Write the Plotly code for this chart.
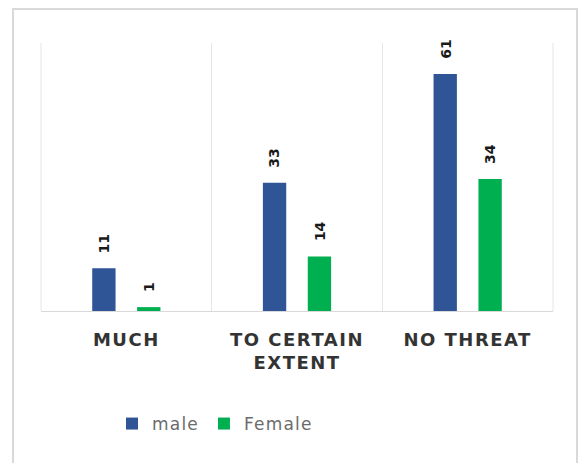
import plotly.graph_objects as go

categories = ["MUCH", "TO CERTAIN<br>EXTENT", "NO THREAT"]
series_names = ["male", "Female"]
male = [11, 33, 61]
female = [1, 14, 34]

W, H = 579, 463
L, R, T, B = 41, 26, 43, 152
pw, ph = W - L - R, H - T - B
colors = ["#2F5597", "#00B050"]


def px_x(p):
    return (p - L) / pw


def px_y(p):
    return (H - B - p) / ph


def spaced(s, sp):
    return "<br>".join(f'<span style="letter-spacing:{sp}px">{part}</span>' for part in s.split("<br>"))


fig = go.Figure()
for name, vals, col in zip(series_names, [male, female], colors):
    fig.add_trace(go.Bar(x=categories, y=vals, name=spaced(name, 1.2), marker_color=col,
                         marker_line_width=0))

# data labels above bars, rotated
bar_off = 22.5
for k, vals in enumerate([male, female]):
    shift = -bar_off if k == 0 else bar_off
    for c, v in zip(categories, vals):
        fig.add_annotation(x=c, y=v, text=str(v), textangle=-90, showarrow=False,
                           xshift=shift, yshift=13, yanchor="bottom", xanchor="center",
                           font=dict(family="DejaVu Sans", size=14, color="#1a1a1a", weight="bold"))

# outer frame
fig.add_shape(type="rect", xref="paper", yref="paper",
              x0=px_x(13), x1=px_x(577), y0=px_y(470), y1=px_y(9),
              line=dict(color="#D9D9D9", width=2), fillcolor="rgba(0,0,0,0)", layer="below")
# left & right category boundary lines
for xb in [0, 1]:
    fig.add_shape(type="line", xref="paper", yref="paper", x0=xb, x1=xb, y0=0, y1=1,
                  line=dict(color="#E6E6E6", width=1), layer="below")

fig.update_layout(
    width=W, height=H,
    margin=dict(l=L, r=R, t=T, b=B),
    paper_bgcolor="white", plot_bgcolor="white",
    barmode="group", bargap=0.474, bargroupgap=0.48,
    showlegend=True,
    legend=dict(orientation="h", x=px_x(112), y=px_y(424), xanchor="left", yanchor="middle",
                font=dict(family="DejaVu Sans", size=17, color="#6b6b6b"),
                itemwidth=30, tracegroupgap=0),
    font=dict(family="DejaVu Sans"),
)
fig.update_xaxes(type="category", tickson="boundaries", showgrid=True, gridcolor="#E6E6E6",
                 gridwidth=1, ticks="", showline=True, linecolor="#D9D9D9",
                 tickvals=categories, ticktext=[spaced(c, 1.5) for c in categories],
                 ticklabelstandoff=12,
                 tickfont=dict(family="DejaVu Sans", size=18, color="#333333", weight="bold"))
fig.update_yaxes(range=[0, 69], showticklabels=False, showgrid=False, zeroline=False,
                 showline=False, ticks="")

fig.write_html("out.html")
